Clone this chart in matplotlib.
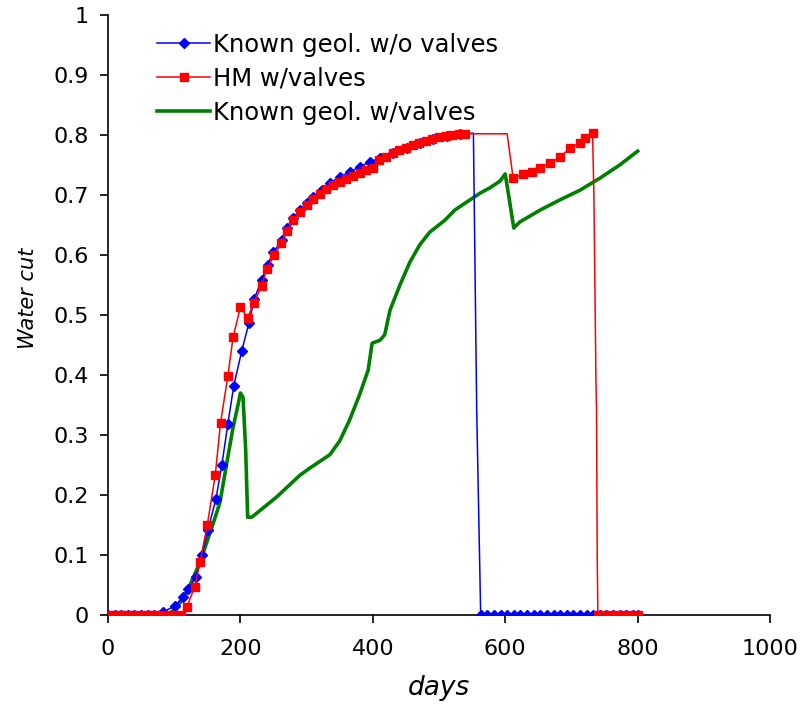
import numpy as np
import matplotlib
matplotlib.use("Agg")
import matplotlib.pyplot as plt

# ---------------- data ----------------
blue_days = [0, 10, 20, 30, 40, 50, 60, 70, 83, 101, 113, 121, 133, 142, 151, 163, 172,
             181, 190, 202, 213, 221, 232, 241, 250, 263, 270, 280, 290, 300, 310, 323,
             335, 350, 365, 380, 396, 411, 431, 451, 471, 491, 512, 532, 552, 557, 563,
             573, 583, 593, 603, 613, 623, 633, 643, 653, 663, 673, 683, 693, 703, 713,
             723, 733, 743, 753, 763, 773, 783, 793, 800]
blue_wc = [0, 0, 0, 0, 0, 0, 0, 0, 0.005, 0.015, 0.03, 0.043, 0.063, 0.10, 0.142, 0.193,
           0.25, 0.318, 0.382, 0.44, 0.487, 0.527, 0.558, 0.583, 0.605, 0.625, 0.645,
           0.662, 0.675, 0.686, 0.697, 0.708, 0.72, 0.73, 0.738, 0.747, 0.755, 0.762,
           0.77, 0.778, 0.787, 0.793, 0.798, 0.802, 0.803, 0.34, 0.0,
           0, 0, 0, 0, 0, 0, 0, 0, 0, 0, 0, 0, 0, 0, 0, 0, 0, 0, 0, 0, 0, 0, 0, 0]
blue_unmarked = [552, 557]

red_days = [0, 10, 20, 30, 40, 50, 60, 70, 80, 90, 100, 110, 119, 131, 139, 150, 162,
            170, 181, 189, 200, 211, 220, 232, 240, 251, 262, 270, 280, 290, 300, 310,
            320, 330, 340, 350, 360, 370, 380, 390, 400, 410, 420, 430, 440, 450, 460,
            470, 480, 490, 500, 510, 520, 530, 540, 603, 612, 627, 640, 652, 668, 683,
            698, 713, 720, 732, 734, 737, 738, 739, 740, 750, 760, 770, 780, 790, 800]
red_wc = [0, 0, 0, 0, 0, 0, 0, 0, 0, 0, 0, 0, 0.013, 0.047, 0.088, 0.15, 0.233, 0.32,
          0.398, 0.463, 0.513, 0.495, 0.52, 0.548, 0.577, 0.60, 0.62, 0.64, 0.658, 0.672,
          0.683, 0.693, 0.702, 0.71, 0.717, 0.722, 0.727, 0.732, 0.737, 0.741, 0.745,
          0.758, 0.764, 0.77, 0.775, 0.779, 0.783, 0.787, 0.79, 0.793, 0.796, 0.798,
          0.80, 0.801, 0.802, 0.802, 0.728, 0.735, 0.738, 0.745, 0.753, 0.763, 0.778,
          0.787, 0.795, 0.803, 0.70, 0.40, 0.34, 0.10, 0.0, 0, 0, 0, 0, 0, 0]
red_unmarked = [603, 734, 737, 738, 739]

green_days = [0, 90, 104, 120, 139, 159, 169, 181, 189, 197, 200, 204, 208, 211, 217,
              225, 255, 290, 305, 335, 350, 365, 380, 393, 399, 411, 418, 426, 441, 456,
              471, 486, 509, 524, 547, 562, 577, 592, 600, 604, 613, 622, 653, 683, 713,
              743, 773, 800]
green_wc = [0, 0, 0.012, 0.04, 0.088, 0.153, 0.187, 0.263, 0.313, 0.353, 0.37, 0.363,
            0.275, 0.163, 0.163, 0.17, 0.197, 0.233, 0.245, 0.267, 0.29, 0.325, 0.367,
            0.408, 0.453, 0.458, 0.467, 0.508, 0.55, 0.588, 0.617, 0.638, 0.658, 0.675,
            0.692, 0.703, 0.712, 0.723, 0.735, 0.708, 0.645, 0.655, 0.675, 0.692, 0.708,
            0.728, 0.75, 0.773]

labels = ["Known geol. w/o valves", "HM w/valves", "Known geol. w/valves"]
x_ticks = [0, 200, 400, 600, 800, 1000]
y_ticks = [0, 0.1, 0.2, 0.3, 0.4, 0.5, 0.6, 0.7, 0.8, 0.9, 1.0]
y_ticklabels = ["0", "0.1", "0.2", "0.3", "0.4", "0.5", "0.6", "0.7", "0.8", "0.9", "1"]

# ---------------- plot ----------------
plt.rcParams['font.family'] = ['DejaVu Sans']
fig = plt.figure(figsize=(8.04, 7.13), dpi=100)
ax = fig.add_axes([0.1343, 0.1374, 0.8234, 0.8416])

bd = np.array(blue_days); bw = np.array(blue_wc)
rd = np.array(red_days); rw = np.array(red_wc)
b_mark = list(np.where(~np.isin(bd, blue_unmarked))[0])
r_mark = list(np.where(~np.isin(rd, red_unmarked))[0])

ax.plot(bd, bw, color='#0000FF', lw=1.1, marker='D', markersize=5.3,
        markevery=b_mark, label=labels[0], zorder=3)
ax.plot(rd, rw, color='#FF0000', lw=1.1, marker='s', markersize=5.8,
        markevery=r_mark, label=labels[1], zorder=4)
ax.plot(green_days, green_wc, color='#008000', lw=2.6, label=labels[2], zorder=2)

ax.set_xlim(0, 1000)
ax.set_ylim(0, 1)
ax.set_xticks(x_ticks)
ax.set_yticks(y_ticks)
ax.set_yticklabels(y_ticklabels)
ax.set_xticks([1000], minor=True)
ax.set_yticks([1.0], minor=True)

for s in ['top', 'right']:
    ax.spines[s].set_visible(False)
for s in ['left', 'bottom']:
    ax.spines[s].set_linewidth(1.2)

ax.tick_params(axis='both', which='major', direction='out', length=6, width=1.2,
               labelsize=16, colors='black')
ax.tick_params(axis='y', which='major', pad=8)
ax.tick_params(axis='x', which='major', pad=11)
ax.tick_params(axis='x', which='minor', direction='in', length=6, width=1.2)
ax.tick_params(axis='y', which='minor', direction='in', length=6, width=1.2)

ax.set_xlabel('days', fontsize=19, style='italic')
ax.set_ylabel('Water cut', fontsize=15, style='italic')
ax.xaxis.set_label_coords(0.5, -0.10)
ax.yaxis.set_label_coords(-0.106, 0.527)

leg = ax.legend(loc='upper left', bbox_to_anchor=(0.074, 0.970), frameon=False,
                fontsize=17.5, handlelength=2.2, handletextpad=0.12, borderpad=0,
                borderaxespad=0, labelspacing=0.41, markerscale=0.9)

fig.savefig('out.png', dpi=100)
